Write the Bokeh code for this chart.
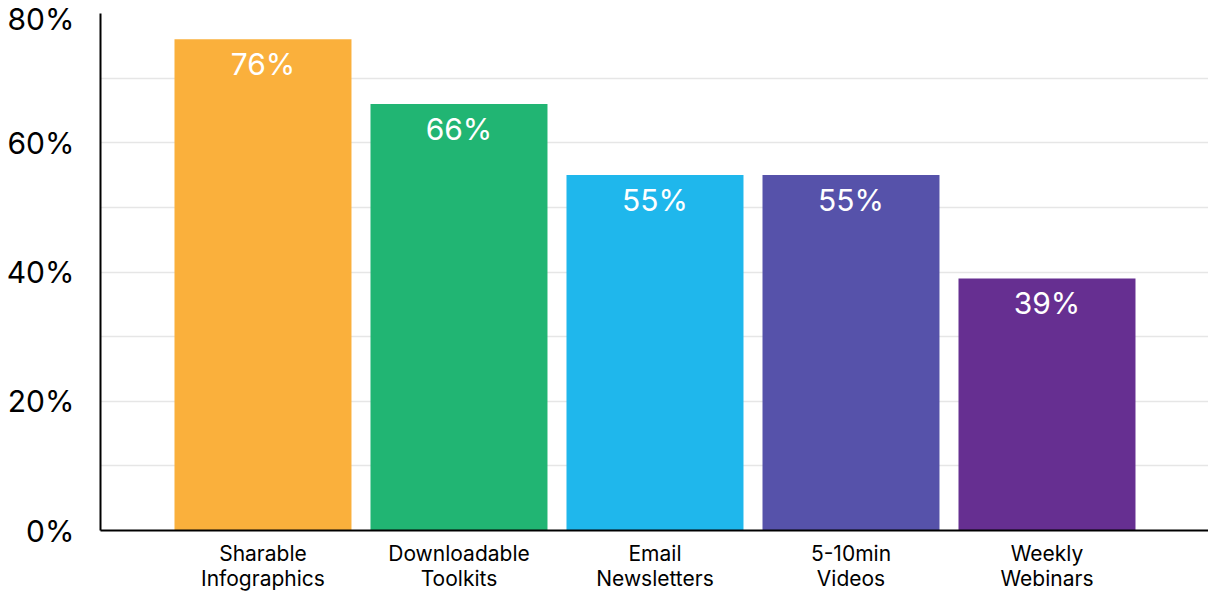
from bokeh.plotting import figure
from bokeh.models import ColumnDataSource, Range1d, FixedTicker, LabelSet
from bokeh.core.properties import value
from bokeh.embed import file_html
from bokeh.resources import INLINE

categories = ["Sharable\nInfographics", "Downloadable\nToolkits", "Email\nNewsletters",
              "5-10min\nVideos", "Weekly\nWebinars"]
values = [76, 66, 55, 55, 39]
colors = ["#FAB03C", "#21B573", "#1FB7EC", "#5652AA", "#662F91"]
y_ticks = [0, 20, 40, 60, 80]
grid_ticks = [0, 10, 20, 30, 40, 50, 60, 70, 80]

xs = list(range(1, len(categories) + 1))
src = ColumnDataSource(dict(x=xs, top=values, color=colors,
                            label=[f"{v}%" for v in values]))

FONT = "Inter"
p = figure(width=1208, height=594, output_backend="svg", toolbar_location=None,
           x_range=Range1d(0.171, 5.824), y_range=Range1d(0, 80),
           min_border_left=100, min_border_right=0, min_border_top=13,
           min_border_bottom=64)
p.outline_line_color = None
p.background_fill_color = "white"
p.border_fill_color = "white"

p.vbar(x="x", top="top", width=0.903, color="color", source=src, line_color=None)

labels = LabelSet(x="x", y="top", text="label", source=src, text_align="center",
                  text_baseline="top", y_offset=-7, text_color="white",
                  text_font=value(FONT), text_font_size="30px")
p.add_layout(labels)

p.xaxis.ticker = FixedTicker(ticks=xs)
p.xaxis.major_label_overrides = {x: c for x, c in zip(xs, categories)}
p.xaxis.major_label_text_font = FONT
p.xaxis.major_label_text_font_size = "21px"
p.xaxis.major_label_text_line_height = 1.0
p.xaxis.major_label_text_color = "black"
p.xaxis.major_label_standoff = 4
p.xaxis.axis_line_color = "black"
p.xaxis.axis_line_width = 2
p.xaxis.major_tick_line_color = None
p.xaxis.minor_tick_line_color = None

p.yaxis.ticker = FixedTicker(ticks=y_ticks)
p.yaxis.major_label_overrides = {t: f"{t}%" for t in y_ticks}
p.yaxis.major_label_text_font = FONT
p.yaxis.major_label_text_font_size = "30px"
p.yaxis.major_label_text_color = "black"
p.yaxis.major_label_standoff = 20
p.yaxis.axis_line_color = "black"
p.yaxis.axis_line_width = 2
p.yaxis.major_tick_line_color = None
p.yaxis.minor_tick_line_color = None

p.xgrid.grid_line_color = None
p.ygrid.ticker = FixedTicker(ticks=grid_ticks)
p.ygrid.grid_line_color = "#E6E6E6"
p.ygrid.grid_line_width = 1.5

open("out.html", "w").write(file_html(p, INLINE))
